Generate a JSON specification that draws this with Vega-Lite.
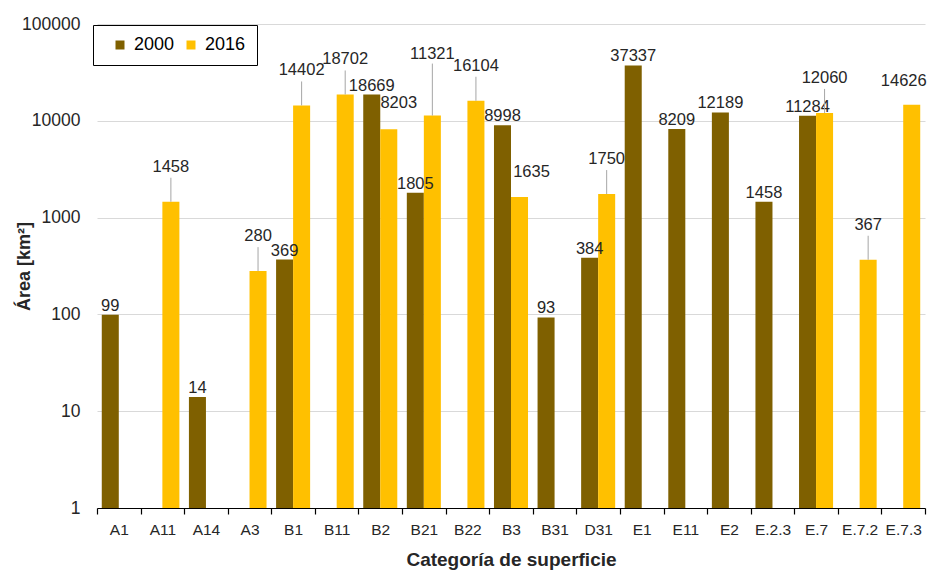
{
  "$schema": "https://vega.github.io/schema/vega-lite/v6.json",
  "autosize": {"type": "none"},
  "width": 828,
  "height": 484,
  "padding": {"left": 97, "top": 24, "right": 2, "bottom": 65},
  "background": "white",
  "config": {
    "font": "Liberation Sans",
    "view": {"stroke": null},
    "axis": {"labelFont": "Liberation Sans", "titleFont": "Liberation Sans", "labelColor": "#262626", "titleColor": "#262626"}
  },
  "data": {
    "values": [
      {"cat": "A1", "year": "2000", "area": 99},
      {"cat": "A11", "year": "2016", "area": 1458},
      {"cat": "A14", "year": "2000", "area": 14},
      {"cat": "A3", "year": "2016", "area": 280},
      {"cat": "B1", "year": "2000", "area": 369},
      {"cat": "B1", "year": "2016", "area": 14402},
      {"cat": "B11", "year": "2016", "area": 18702},
      {"cat": "B2", "year": "2000", "area": 18669},
      {"cat": "B2", "year": "2016", "area": 8203},
      {"cat": "B21", "year": "2000", "area": 1805},
      {"cat": "B21", "year": "2016", "area": 11321},
      {"cat": "B22", "year": "2016", "area": 16104},
      {"cat": "B3", "year": "2000", "area": 8998},
      {"cat": "B3", "year": "2016", "area": 1635},
      {"cat": "B31", "year": "2000", "area": 93},
      {"cat": "D31", "year": "2000", "area": 384},
      {"cat": "D31", "year": "2016", "area": 1750},
      {"cat": "E1", "year": "2000", "area": 37337},
      {"cat": "E11", "year": "2000", "area": 8209},
      {"cat": "E2", "year": "2000", "area": 12189},
      {"cat": "E.2.3", "year": "2000", "area": 1458},
      {"cat": "E.7", "year": "2000", "area": 11284},
      {"cat": "E.7", "year": "2016", "area": 12060},
      {"cat": "E.7.2", "year": "2016", "area": 367},
      {"cat": "E.7.3", "year": "2016", "area": 14626}
    ]
  },
  "encoding": {
    "x": {
      "field": "cat", "type": "nominal", "sort": null,
      "scale": {"paddingInner": 0, "paddingOuter": 0},
      "axis": {
        "title": "Categoría de superficie", "titleFontSize": 19, "titleFontWeight": "bold", "titlePadding": 13,
        "labelAngle": 0, "labelFontSize": 15.5, "labelPadding": 8,
        "domainColor": "#000000", "tickColor": "#000000", "tickSize": 6, "tickBand": "extent",
        "domainWidth": 1.2, "tickWidth": 1.2
      }
    },
    "xOffset": {"field": "year", "type": "nominal", "scale": {"paddingInner": 0, "paddingOuter": 0.28}},
    "y": {
      "field": "area", "type": "quantitative",
      "scale": {"type": "log", "domain": [1, 100000], "nice": false},
      "axis": {
        "title": "Área [km²]", "titleFontSize": 18, "titleFontWeight": "bold", "titleX": -64, "titleY": 242,
        "values": [1, 10, 100, 1000, 10000, 100000], "format": "d",
        "labelFontSize": 17.5, "labelPadding": 17, "domain": false, "ticks": false,
        "gridColor": "#d9d9d9", "gridWidth": 1
      }
    }
  },
  "layer": [
    {
      "mark": {"type": "bar"},
      "encoding": {
        "y2": {"datum": 1},
        "color": {
          "field": "year", "type": "nominal",
          "scale": {"domain": ["2000", "2016"], "range": ["#7F6000", "#FFC000"]},
          "legend": {
            "title": null, "orient": "none", "legendX": -4, "legendY": 1,
            "direction": "horizontal", "symbolType": "square", "symbolSize": 81,
            "labelFontSize": 18, "labelColor": "#000000", "columnPadding": 0,
            "strokeColor": "#000000", "padding": 11, "symbolOffset": 7,
            "labelOffset": 5
          }
        }
      }
    },
    {
      "transform": [{"filter": "datum.year === '2000'"}],
      "mark": {"type": "text", "baseline": "bottom", "dy": -1, "fontSize": 16.5, "color": "#262626"},
      "encoding": {"text": {"field": "area", "type": "quantitative", "format": "d"}}
    },
    {
      "transform": [{"filter": "datum.year === '2016' && datum.cat !== 'B2' && datum.cat !== 'B3' && datum.cat !== 'E.7.3'"}],
      "mark": {"type": "rule", "color": "#a6a6a6", "strokeWidth": 1,
        "y2Offset": {"expr": "datum.cat === 'B21' ? -52 : -24"}},
      "encoding": {"y2": {"field": "area"}}
    },
    {
      "transform": [{"filter": "datum.year === '2016'"}],
      "mark": {"type": "text", "baseline": "bottom", "fontSize": 16.5, "color": "#262626",
        "dy": {"expr": "datum.cat === 'B21' ? -54 : datum.cat === 'B2' ? -18 : datum.cat === 'B3' ? -17 : datum.cat === 'E.7.3' ? -16 : -27"},
        "dx": {"expr": "datum.cat === 'B2' ? 10 : datum.cat === 'B3' ? 12 : datum.cat === 'E.7.3' ? -8 : 0"}},
      "encoding": {"text": {"field": "area", "type": "quantitative", "format": "d"}}
    }
  ]
}
